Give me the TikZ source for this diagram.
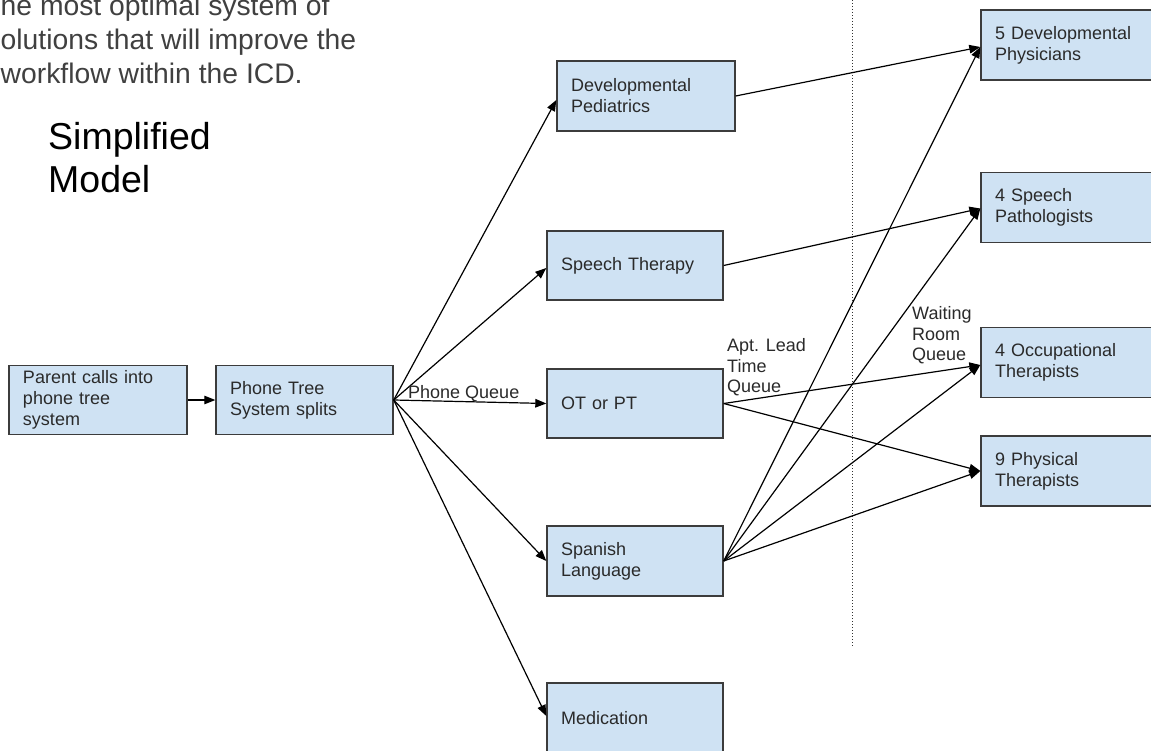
\documentclass[tikz,border=0pt]{standalone}
\usepackage{fontspec}
\setmainfont{Liberation Sans}
\usetikzlibrary{arrows.meta,calc}
\definecolor{boxfill}{HTML}{CFE2F3}
\definecolor{boxline}{HTML}{3C3C3C}
\definecolor{txt}{HTML}{2A2A2A}
\definecolor{titletxt}{HTML}{404040}
\begin{document}
\begin{tikzpicture}[x=1pt,y=-1pt,
  box/.style={draw=boxline, line width=1.4pt, fill=boxfill, minimum width=176pt, minimum height=69pt,
    text width=148pt, inner xsep=14pt, inner ysep=0pt, align=left,
    font=\fontsize{18}{21}\selectfont, text=txt},
  rbox/.style={box, minimum width=178pt, text width=150pt, minimum height=70pt},
  arr/.style={line width=1.2pt, -{Triangle[length=11pt,width=8.5pt]}},
  lbl/.style={font=\fontsize{18}{20.5}\selectfont, text=txt, inner sep=0pt, align=left, anchor=north west}]
\useasboundingbox (0,0) rectangle (1151,751);
\begin{scope}
\clip (0,0) rectangle (1151,751);
\fill[white] (0,0) rectangle (1151,751);

% title texts
\node[anchor=north west, inner sep=0pt, align=left, text=titletxt,
      font=\fontsize{28.3}{34}\selectfont] (intro) at (0.5,-5.6)
  {he most optimal system of\\olutions that will improve the\\workflow within the ICD.};
\node[anchor=north west, inner sep=0pt, align=left, text=black,
      font=\fontsize{37.5}{43}\selectfont] (model) at (48,122.6)
  {Simplified\\Model};

% dotted divider
\coordinate (dtop) at (852.5,0);
\coordinate (dbot) at (852.5,646);
\draw[line width=1pt, black!80, dash pattern=on 1pt off 2pt] (dtop) -- (dbot);

% boxes
\node[box, minimum width=178pt, text width=150pt] (par) at (98,400) {Parent calls into\\phone tree\\system};
\node[box, minimum width=177pt, text width=149pt] (pt) at (304.5,400) {Phone Tree\\System splits};
\node[box, minimum width=178pt, text width=150pt, minimum height=70pt] (dp) at (646,96) {Developmental\\Pediatrics};
\node[box] (st) at (635,265.5) {Speech Therapy};
\node[box] (ot) at (635,403.5) {OT or PT};
\node[box, minimum height=70pt] (sp) at (635,561) {Spanish\\Language};
\node[box, minimum height=70pt] (me) at (635,718) {Medication};

\node[rbox] (r1) at (1070,45) {5 Developmental\\Physicians};
\node[rbox] (r2) at (1070,207.5) {4 Speech\\Pathologists};
\node[rbox] (r3) at (1070,362.5) {4 Occupational\\Therapists};
\node[rbox] (r4) at (1070,471) {9 Physical\\Therapists};

% connectors
\draw[arr] (par.east) -- (pt.west);
\draw[arr] (pt.east) -- ($(dp.west)+(0,4)$);
\draw[arr] (pt.east) -- ($(st.west)+(0,2.5)$);
\draw[arr] (pt.east) -- (ot.west);
\draw[arr] (pt.east) -- (sp.west);
\draw[arr] (pt.east) -- ($(me.west)+(0,-2)$);

\draw[arr] (dp.east) -- ($(r1.west)+(0,2)$);
\draw[arr] (st.east) -- ($(r2.west)+(0,1)$);
\draw[arr] (ot.east) -- ($(r3.west)+(0,2.5)$);
\draw[arr] (ot.east) -- (r4.west);
\draw[arr] (sp.east) -- ($(r1.west)+(0,2)$);
\draw[arr] (sp.east) -- ($(r2.west)+(0,1)$);
\draw[arr] (sp.east) -- ($(r3.west)+(0,2.5)$);
\draw[arr] (sp.east) -- (r4.west);

% connector labels
\node[font=\fontsize{18}{21}\selectfont, text=txt, inner sep=0pt, anchor=base west] (lq) at (408,398) {Phone Queue};
\node[lbl] (la) at (727,338.5) {Apt. Lead\\Time\\Queue};
\node[lbl] (lw) at (912,306.5) {Waiting\\Room\\Queue};
\end{scope}
\end{tikzpicture}
\end{document}
